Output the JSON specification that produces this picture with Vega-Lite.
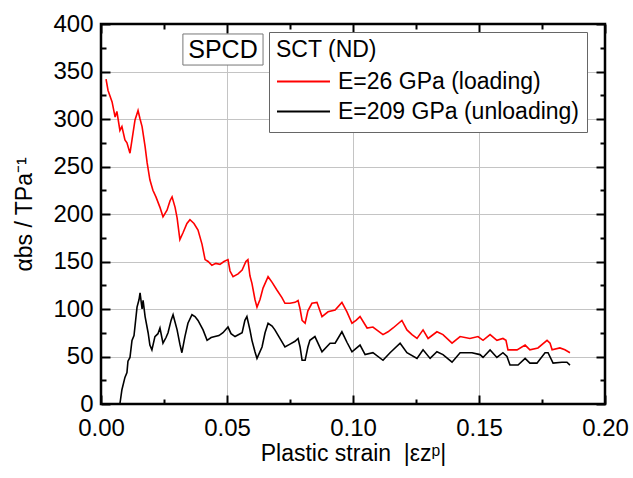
{
  "$schema": "https://vega.github.io/schema/vega-lite/v6.json",
  "width": 504,
  "height": 380,
  "autosize": {"type": "none"},
  "padding": {"left": 101, "top": 24, "right": 28, "bottom": 74},
  "background": "white",
  "config": {
    "font": "Liberation Sans",
    "view": {"stroke": "black", "strokeWidth": 2, "fill": null},
    "axis": {
      "labelFont": "Liberation Sans", "titleFont": "Liberation Sans",
      "labelColor": "black", "titleColor": "black",
      "labelFontSize": 24, "titleFontSize": 23, "titleFontWeight": "normal",
      "tickColor": "#000000", "tickWidth": 2, "domain": false, "labelFlush": false,
      "grid": false, "gridColor": "#c4c4c4", "gridWidth": 1
    }
  },
  "datasets": {
    "curves": [
    {"s":0.0020,"v":342,"c":"L"},{"s":0.0028,"v":330,"c":"L"},{"s":0.0036,"v":324,"c":"L"},{"s":0.0044,"v":318,"c":"L"},
    {"s":0.0056,"v":302,"c":"L"},{"s":0.0063,"v":308,"c":"L"},{"s":0.0075,"v":288,"c":"L"},{"s":0.0083,"v":292,"c":"L"},
    {"s":0.0095,"v":278,"c":"L"},{"s":0.0103,"v":275,"c":"L"},{"s":0.0115,"v":264,"c":"L"},{"s":0.0123,"v":278,"c":"L"},
    {"s":0.0135,"v":299,"c":"L"},{"s":0.0147,"v":309,"c":"L"},{"s":0.0155,"v":300,"c":"L"},{"s":0.0163,"v":292,"c":"L"},
    {"s":0.0175,"v":271,"c":"L"},{"s":0.0183,"v":254,"c":"L"},{"s":0.0194,"v":236,"c":"L"},{"s":0.0206,"v":225,"c":"L"},
    {"s":0.0218,"v":218,"c":"L"},{"s":0.0234,"v":207,"c":"L"},{"s":0.0246,"v":197,"c":"L"},{"s":0.0262,"v":204,"c":"L"},
    {"s":0.0274,"v":214,"c":"L"},{"s":0.0282,"v":218,"c":"L"},{"s":0.0294,"v":207,"c":"L"},{"s":0.0302,"v":196,"c":"L"},
    {"s":0.0313,"v":173,"c":"L"},{"s":0.0325,"v":180,"c":"L"},{"s":0.0341,"v":190,"c":"L"},{"s":0.0353,"v":194,"c":"L"},
    {"s":0.0369,"v":190,"c":"L"},{"s":0.0385,"v":183,"c":"L"},{"s":0.0401,"v":168,"c":"L"},{"s":0.0413,"v":152,"c":"L"},
    {"s":0.0425,"v":150,"c":"L"},{"s":0.0440,"v":146,"c":"L"},{"s":0.0456,"v":148,"c":"L"},{"s":0.0472,"v":147,"c":"L"},
    {"s":0.0488,"v":150,"c":"L"},{"s":0.0504,"v":152,"c":"L"},{"s":0.0512,"v":140,"c":"L"},{"s":0.0524,"v":134,"c":"L"},
    {"s":0.0544,"v":137,"c":"L"},{"s":0.0560,"v":141,"c":"L"},{"s":0.0575,"v":150,"c":"L"},{"s":0.0583,"v":152,"c":"L"},
    {"s":0.0591,"v":135,"c":"L"},{"s":0.0599,"v":127,"c":"L"},{"s":0.0611,"v":110,"c":"L"},{"s":0.0619,"v":102,"c":"L"},
    {"s":0.0631,"v":110,"c":"L"},{"s":0.0643,"v":122,"c":"L"},{"s":0.0663,"v":134,"c":"L"},{"s":0.0679,"v":128,"c":"L"},
    {"s":0.0698,"v":120,"c":"L"},{"s":0.0718,"v":112,"c":"L"},{"s":0.0730,"v":106,"c":"L"},{"s":0.0750,"v":106,"c":"L"},
    {"s":0.0770,"v":107,"c":"L"},{"s":0.0782,"v":109,"c":"L"},{"s":0.0790,"v":100,"c":"L"},{"s":0.0798,"v":88,"c":"L"},
    {"s":0.0810,"v":85,"c":"L"},{"s":0.0821,"v":98,"c":"L"},{"s":0.0837,"v":106,"c":"L"},{"s":0.0857,"v":107,"c":"L"},
    {"s":0.0877,"v":92,"c":"L"},{"s":0.0901,"v":97,"c":"L"},{"s":0.0929,"v":99,"c":"L"},{"s":0.0956,"v":107,"c":"L"},
    {"s":0.0976,"v":97,"c":"L"},{"s":0.0996,"v":85,"c":"L"},{"s":0.1012,"v":88,"c":"L"},{"s":0.1028,"v":92,"c":"L"},
    {"s":0.1056,"v":80,"c":"L"},{"s":0.1079,"v":81,"c":"L"},{"s":0.1119,"v":73,"c":"L"},{"s":0.1139,"v":76,"c":"L"},
    {"s":0.1159,"v":80,"c":"L"},{"s":0.1194,"v":88,"c":"L"},{"s":0.1214,"v":78,"c":"L"},{"s":0.1234,"v":73,"c":"L"},
    {"s":0.1254,"v":69,"c":"L"},{"s":0.1278,"v":78,"c":"L"},{"s":0.1298,"v":69,"c":"L"},{"s":0.1333,"v":76,"c":"L"},
    {"s":0.1357,"v":73,"c":"L"},{"s":0.1393,"v":64,"c":"L"},{"s":0.1425,"v":71,"c":"L"},{"s":0.1464,"v":69,"c":"L"},
    {"s":0.1496,"v":71,"c":"L"},{"s":0.1516,"v":67,"c":"L"},{"s":0.1544,"v":73,"c":"L"},{"s":0.1571,"v":67,"c":"L"},
    {"s":0.1595,"v":69,"c":"L"},{"s":0.1607,"v":67,"c":"L"},{"s":0.1615,"v":57,"c":"L"},{"s":0.1651,"v":57,"c":"L"},
    {"s":0.1683,"v":62,"c":"L"},{"s":0.1702,"v":57,"c":"L"},{"s":0.1734,"v":59,"c":"L"},{"s":0.1770,"v":67,"c":"L"},
    {"s":0.1782,"v":64,"c":"L"},{"s":0.1790,"v":57,"c":"L"},{"s":0.1821,"v":59,"c":"L"},{"s":0.1841,"v":57,"c":"L"},
    {"s":0.1861,"v":54,"c":"L"},
    {"s":0.0075,"v":0,"c":"U"},{"s":0.0083,"v":15,"c":"U"},{"s":0.0095,"v":28,"c":"U"},{"s":0.0103,"v":33,"c":"U"},
    {"s":0.0107,"v":45,"c":"U"},{"s":0.0115,"v":49,"c":"U"},{"s":0.0123,"v":67,"c":"U"},{"s":0.0131,"v":72,"c":"U"},
    {"s":0.0143,"v":102,"c":"U"},{"s":0.0151,"v":110,"c":"U"},{"s":0.0155,"v":117,"c":"U"},{"s":0.0163,"v":100,"c":"U"},
    {"s":0.0167,"v":109,"c":"U"},{"s":0.0175,"v":92,"c":"U"},{"s":0.0187,"v":75,"c":"U"},{"s":0.0194,"v":62,"c":"U"},
    {"s":0.0202,"v":57,"c":"U"},{"s":0.0214,"v":71,"c":"U"},{"s":0.0226,"v":74,"c":"U"},{"s":0.0234,"v":80,"c":"U"},
    {"s":0.0246,"v":64,"c":"U"},{"s":0.0258,"v":70,"c":"U"},{"s":0.0266,"v":75,"c":"U"},{"s":0.0278,"v":88,"c":"U"},
    {"s":0.0286,"v":94,"c":"U"},{"s":0.0302,"v":78,"c":"U"},{"s":0.0313,"v":63,"c":"U"},{"s":0.0321,"v":54,"c":"U"},
    {"s":0.0333,"v":71,"c":"U"},{"s":0.0345,"v":85,"c":"U"},{"s":0.0361,"v":94,"c":"U"},{"s":0.0373,"v":92,"c":"U"},
    {"s":0.0385,"v":88,"c":"U"},{"s":0.0405,"v":78,"c":"U"},{"s":0.0421,"v":67,"c":"U"},{"s":0.0437,"v":70,"c":"U"},
    {"s":0.0452,"v":71,"c":"U"},{"s":0.0468,"v":72,"c":"U"},{"s":0.0484,"v":75,"c":"U"},{"s":0.0504,"v":81,"c":"U"},
    {"s":0.0516,"v":74,"c":"U"},{"s":0.0532,"v":71,"c":"U"},{"s":0.0560,"v":75,"c":"U"},{"s":0.0571,"v":88,"c":"U"},
    {"s":0.0579,"v":92,"c":"U"},{"s":0.0591,"v":78,"c":"U"},{"s":0.0599,"v":67,"c":"U"},{"s":0.0611,"v":55,"c":"U"},
    {"s":0.0619,"v":48,"c":"U"},{"s":0.0639,"v":60,"c":"U"},{"s":0.0651,"v":75,"c":"U"},{"s":0.0663,"v":85,"c":"U"},
    {"s":0.0679,"v":82,"c":"U"},{"s":0.0690,"v":78,"c":"U"},{"s":0.0710,"v":69,"c":"U"},{"s":0.0730,"v":60,"c":"U"},
    {"s":0.0750,"v":63,"c":"U"},{"s":0.0770,"v":66,"c":"U"},{"s":0.0782,"v":69,"c":"U"},{"s":0.0790,"v":60,"c":"U"},
    {"s":0.0798,"v":46,"c":"U"},{"s":0.0810,"v":46,"c":"U"},{"s":0.0821,"v":60,"c":"U"},{"s":0.0829,"v":67,"c":"U"},
    {"s":0.0849,"v":71,"c":"U"},{"s":0.0877,"v":55,"c":"U"},{"s":0.0909,"v":64,"c":"U"},{"s":0.0929,"v":64,"c":"U"},
    {"s":0.0956,"v":76,"c":"U"},{"s":0.0976,"v":65,"c":"U"},{"s":0.0996,"v":55,"c":"U"},{"s":0.1028,"v":62,"c":"U"},
    {"s":0.1048,"v":52,"c":"U"},{"s":0.1079,"v":54,"c":"U"},{"s":0.1119,"v":46,"c":"U"},{"s":0.1147,"v":54,"c":"U"},
    {"s":0.1187,"v":64,"c":"U"},{"s":0.1214,"v":54,"c":"U"},{"s":0.1254,"v":48,"c":"U"},{"s":0.1278,"v":57,"c":"U"},
    {"s":0.1306,"v":48,"c":"U"},{"s":0.1333,"v":55,"c":"U"},{"s":0.1357,"v":52,"c":"U"},{"s":0.1393,"v":44,"c":"U"},
    {"s":0.1425,"v":54,"c":"U"},{"s":0.1472,"v":54,"c":"U"},{"s":0.1504,"v":52,"c":"U"},{"s":0.1516,"v":49,"c":"U"},
    {"s":0.1544,"v":57,"c":"U"},{"s":0.1571,"v":49,"c":"U"},{"s":0.1595,"v":54,"c":"U"},{"s":0.1611,"v":50,"c":"U"},
    {"s":0.1623,"v":41,"c":"U"},{"s":0.1655,"v":41,"c":"U"},{"s":0.1683,"v":48,"c":"U"},{"s":0.1702,"v":43,"c":"U"},
    {"s":0.1730,"v":43,"c":"U"},{"s":0.1762,"v":54,"c":"U"},{"s":0.1774,"v":54,"c":"U"},{"s":0.1794,"v":43,"c":"U"},
    {"s":0.1829,"v":44,"c":"U"},{"s":0.1849,"v":44,"c":"U"},{"s":0.1861,"v":41,"c":"U"}
    ],
    "one": [{"name": "SPCD"}]
  },
  "data": {"name": "curves"},
  "layer": [
    {
      "mark": {"type": "line", "opacity": 0},
      "encoding": {
        "x": {"field": "s", "type": "quantitative",
          "axis": {"orient": "bottom", "values": [0.05, 0.1, 0.15], "labels": false, "ticks": false, "grid": true, "title": null}},
        "y": {"field": "v", "type": "quantitative",
          "axis": {"orient": "left", "values": [50, 100, 150, 200, 250, 300, 350], "labels": false, "ticks": false, "grid": true, "title": null}}
      }
    },
    {
      "mark": {"type": "line", "strokeWidth": 1.6},
      "encoding": {
        "x": {"field": "s", "type": "quantitative", "scale": {"domain": [0, 0.2], "nice": false, "zero": false},
          "axis": {"orient": "bottom", "values": [0, 0.05, 0.1, 0.15, 0.2], "format": ".2f",
            "tickSize": -9, "labelPadding": 21, "title": "Plastic strain\u00a0\u00a0|εzᵖ|", "titlePadding": 2}},
        "y": {"field": "v", "type": "quantitative", "scale": {"domain": [0, 400], "nice": false},
          "axis": {"orient": "left", "values": [0, 50, 100, 150, 200, 250, 300, 350, 400],
            "tickSize": -9, "labelPadding": 17, "title": "αbs / TPa⁻¹", "titlePadding": 16}},
        "color": {"field": "c", "type": "nominal",
          "scale": {"domain": ["L", "U"], "range": ["#ff0000", "#000000"]},
          "legend": {"orient": "none", "legendX": 168, "legendY": 8, "title": "SCT (ND)",
            "labelExpr": "datum.label == 'L' ? 'E=26 GPa (loading)' : 'E=209 GPa (unloading)'",
            "titleFont": "Liberation Sans", "titleFontSize": 23, "titleFontWeight": "normal", "titleColor": "black",
            "labelFont": "Liberation Sans", "labelFontSize": 23, "labelColor": "black",
            "symbolType": "stroke", "symbolSize": 2809, "symbolStrokeWidth": 2, "clipHeight": 27,
            "rowPadding": 3, "labelOffset": 7, "titlePadding": 6, "padding": 7,
            "strokeColor": "#666666", "fillColor": "white", "labelLimit": 400}}
      }
    },
    {
      "mark": {"type": "line", "opacity": 0},
      "encoding": {
        "x": {"field": "s", "type": "quantitative",
          "axis": {"orient": "bottom", "values": [0.025, 0.075, 0.125, 0.175], "labels": false, "tickSize": -5, "title": null}},
        "y": {"field": "v", "type": "quantitative",
          "axis": {"orient": "left", "values": [25, 75, 125, 175, 225, 275, 325, 375], "labels": false, "tickSize": -5, "title": null}}
      }
    },
    {
      "mark": {"type": "line", "opacity": 0},
      "encoding": {
        "x": {"field": "s", "type": "quantitative",
          "axis": {"orient": "top", "values": [0, 0.05, 0.1, 0.15, 0.2], "labels": false, "tickSize": -9, "title": null}},
        "y": {"field": "v", "type": "quantitative",
          "axis": {"orient": "right", "values": [0, 50, 100, 150, 200, 250, 300, 350, 400], "labels": false, "tickSize": -9, "title": null}}
      }
    },
    {
      "mark": {"type": "line", "opacity": 0},
      "encoding": {
        "x": {"field": "s", "type": "quantitative",
          "axis": {"orient": "top", "values": [0.025, 0.075, 0.125, 0.175], "labels": false, "tickSize": -5, "title": null}},
        "y": {"field": "v", "type": "quantitative",
          "axis": {"orient": "right", "values": [25, 75, 125, 175, 225, 275, 325, 375], "labels": false, "tickSize": -5, "title": null}}
      }
    },
    {
      "data": {"name": "one"},
      "mark": {"type": "rect", "filled": false, "stroke": "#000000", "strokeWidth": 2.5, "opacity": 1, "strokeOpacity": 1},
      "encoding": {
        "x": {"datum": 0, "type": "quantitative", "axis": null},
        "x2": {"datum": 0.2},
        "y": {"datum": 0, "type": "quantitative", "axis": null},
        "y2": {"datum": 400}
      }
    },
    {
      "data": {"name": "one"},
      "mark": {"type": "rect", "fill": "white", "stroke": "#777777", "strokeWidth": 1},
      "encoding": {
        "x": {"datum": 0.0325, "type": "quantitative", "axis": null},
        "x2": {"datum": 0.0643},
        "y": {"datum": 389.5, "type": "quantitative", "axis": null},
        "y2": {"datum": 356.8}
      }
    },
    {
      "data": {"name": "one"},
      "mark": {"type": "text", "font": "Liberation Sans", "fontSize": 25, "fill": "black", "align": "center", "baseline": "middle"},
      "encoding": {
        "text": {"field": "name"},
        "x": {"datum": 0.0484, "type": "quantitative", "axis": null},
        "y": {"datum": 373, "type": "quantitative", "axis": null}
      }
    }
  ],
  "resolve": {"axis": {"x": "independent", "y": "independent"}}
}
